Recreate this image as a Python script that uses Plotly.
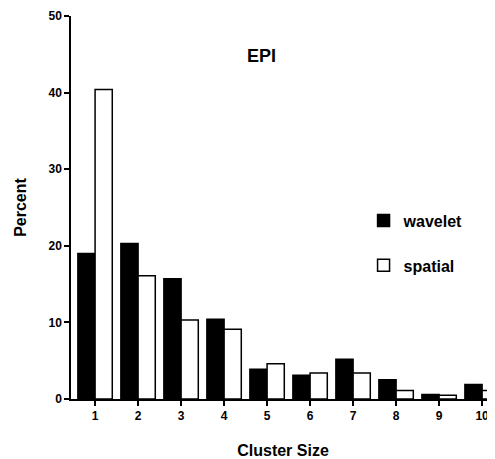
import plotly.graph_objects as go

sizes = [1, 2, 3, 4, 5, 6, 7, 8, 9, 10]
wavelet = [19.0, 20.3, 15.7, 10.4, 3.9, 3.1, 5.2, 2.5, 0.6, 1.9]
spatial = [40.4, 16.1, 10.3, 9.1, 4.6, 3.4, 3.4, 1.1, 0.5, 1.1]
y_ticks = [0, 10, 20, 30, 40, 50]

FONT = "Liberation Sans"

fig = go.Figure()
fig.add_trace(go.Bar(x=sizes, y=wavelet, name="wavelet", legendgroup="a",
                     marker=dict(color="black", line=dict(color="black", width=1.5))))
fig.add_trace(go.Bar(x=sizes, y=spatial, name="spatial", legendgroup="b",
                     marker=dict(color="white", line=dict(color="black", width=1.5))))

# page body has an 8px margin, so the figure is sized to fill the rest of the window
fig.update_layout(
    width=487, height=451,
    margin=dict(l=63, r=0, t=8, b=60),
    paper_bgcolor="white", plot_bgcolor="white",
    barmode="group", bargap=0.2, bargroupgap=0,
    font=dict(family=FONT, color="black"),
    showlegend=True,
    legend=dict(x=0.69, y=0.51, xanchor="left", yanchor="top",
                traceorder="grouped", tracegroupgap=21,
                font=dict(family=FONT, size=16, color="black", weight="bold"),
                bgcolor="rgba(0,0,0,0)"),
    annotations=[dict(text="<b>EPI</b>", x=0.45, y=0.927, xref="paper", yref="paper",
                      showarrow=False, font=dict(family=FONT, size=18, color="black"))],
)
fig.update_xaxes(range=[0.44, 10.30], tickvals=sizes, ticktext=[str(s) for s in sizes],
                 automargin=False,
                 showline=True, linecolor="black", linewidth=1.5,
                 ticks="outside", ticklen=5, tickcolor="black", tickwidth=1.5,
                 showgrid=False, zeroline=False,
                 tickfont=dict(size=12, family=FONT, weight="bold"),
                 title=dict(text="<b>Cluster Size</b>", font=dict(size=16, family=FONT), standoff=23))
fig.update_yaxes(range=[0, 50], tickvals=y_ticks, automargin=False,
                 showline=True, linecolor="black", linewidth=1.5, mirror=True,
                 ticks="outside", ticklen=5, tickcolor="black", tickwidth=1.5,
                 showgrid=False, zeroline=False,
                 tickfont=dict(size=12, family=FONT, weight="bold"),
                 title=dict(text="<b>Percent</b>", font=dict(size=16, family=FONT), standoff=18))

fig.write_html("out.html")
